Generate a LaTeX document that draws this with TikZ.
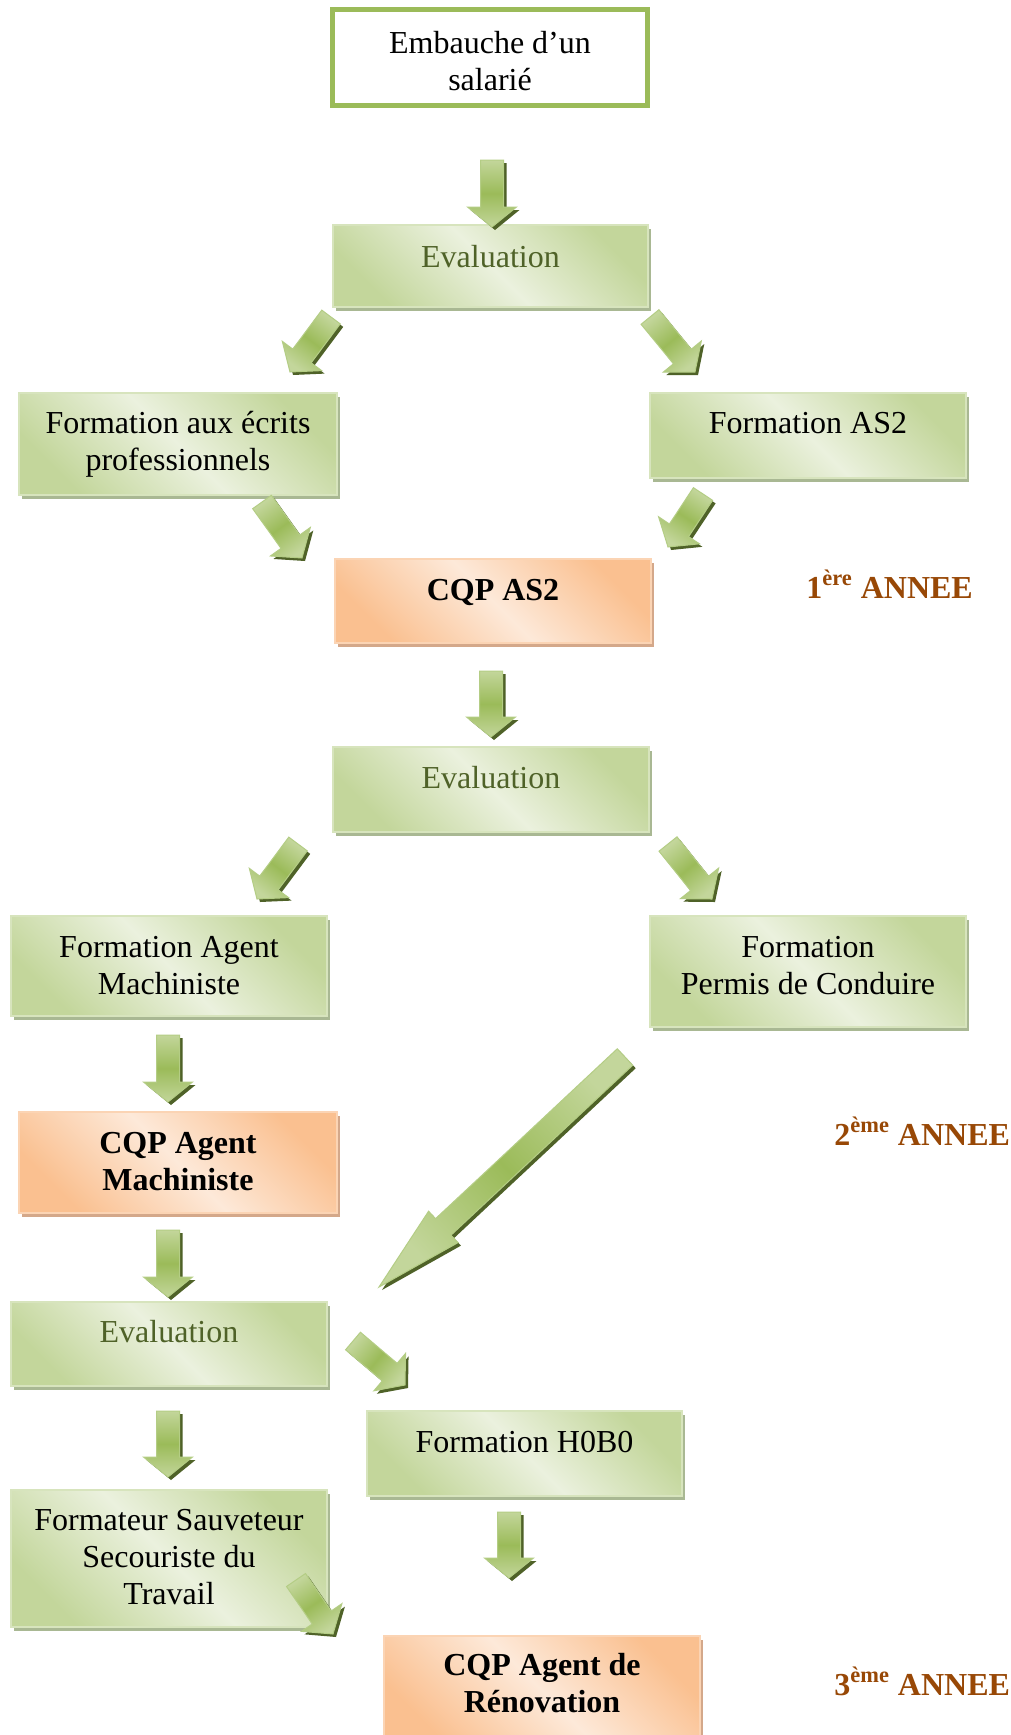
\documentclass[tikz,border=0pt]{standalone}
\usepackage{fontspec}
\setmainfont{Liberation Serif}
\usetikzlibrary{calc,shadows}
\definecolor{gdark}{HTML}{C3D69B}
\definecolor{glight}{HTML}{EBF1DE}
\definecolor{gedge}{HTML}{D7E4BD}
\definecolor{gshadow}{HTML}{A9B893}
\definecolor{odark}{HTML}{FAC090}
\definecolor{olight}{HTML}{FDE9D9}
\definecolor{oedge}{HTML}{FBD4B4}
\definecolor{oshadow}{HTML}{D4A88A}
\definecolor{embgreen}{HTML}{9BBB59}
\definecolor{alight}{HTML}{C3D69B}
\definecolor{adark}{HTML}{9BBB59}
\definecolor{aedge}{HTML}{B4CD85}
\definecolor{ashadow}{HTML}{4F6228}
\definecolor{olivetext}{HTML}{4F6228}
\definecolor{yearbrown}{HTML}{984806}
\newcommand\fs{\fontsize{16}{18.5}\selectfont}
\newcommand\bt[4]{\parbox[c][#2][t]{#1}{\centering\rule{0pt}{#3}#4}}
% block arrow: #1 tail, #2 tip, #3 shaft half width, #4 head half width, #5 head length, #6 shading angle
\newcommand\barr[6]{%
  \coordinate (hb) at ($(#2)!#5!(#1)$);
  \begin{scope}[transform canvas={xshift=1.5pt,yshift=-1.5pt}]
    \fill[ashadow] ($(#1)!#3!90:(#2)$) -- ($(hb)!#3!90:(#2)$) -- ($(hb)!#4!90:(#2)$) -- (#2)
      -- ($(hb)!#4!-90:(#2)$) -- ($(hb)!#3!-90:(#2)$) -- ($(#1)!#3!-90:(#2)$) -- cycle;
  \end{scope}
  \shade[top color=alight, bottom color=alight, middle color=adark, shading angle=#6,
         draw=aedge, line width=0.5pt, line join=miter]
    ($(#1)!#3!90:(#2)$) -- ($(hb)!#3!90:(#2)$) -- ($(hb)!#4!90:(#2)$) -- (#2)
      -- ($(hb)!#4!-90:(#2)$) -- ($(hb)!#3!-90:(#2)$) -- ($(#1)!#3!-90:(#2)$) -- cycle;
}
\tikzset{
  gbox/.style={rectangle, inner sep=0pt, draw=gedge, line width=0.75pt,
    general shadow={fill=gshadow, shadow xshift=1.5pt, shadow yshift=-2pt},
    top color=gdark, bottom color=gdark, middle color=glight, shading angle=-45, font=\fs},
  obox/.style={rectangle, inner sep=0pt, draw=oedge, line width=0.75pt,
    general shadow={fill=oshadow, shadow xshift=1.5pt, shadow yshift=-2pt},
    top color=odark, bottom color=odark, middle color=olight, shading angle=-45, font=\fs\bfseries},
  embbox/.style={rectangle, inner sep=0pt, draw=embgreen, line width=2.5pt, fill=white, font=\fs},
  year/.style={inner sep=0pt, anchor=base west, text=yearbrown, font=\fs\bfseries},
}
\begin{document}
\begin{tikzpicture}[x=0.5pt,y=-0.5pt]
\useasboundingbox (0,0) rectangle (1011,1735);
\clip (0,0) rectangle (1011,1735);
\fill[white] (0,0) rectangle (1011,1735);

% boxes
\node[embbox] (emb) at (490,57.5) {\bt{157.5pt}{48pt}{21.75pt}{Embauche d’un\\salarié}};
\node[gbox] (ev1) at (490.5,266) {\bt{157.5pt}{41pt}{21pt}{\color{olivetext}Evaluation}};
\node[gbox] (ecr) at (178,444) {\bt{159pt}{51pt}{20pt}{Formation aux écrits\\professionnels}};
\node[gbox] (as2) at (808,435.5) {\bt{158pt}{42.5pt}{20pt}{Formation AS2}};
\node[obox] (cqp1) at (493,601) {\bt{158pt}{42pt}{20.5pt}{CQP AS2}};
\node[gbox] (ev2) at (491,789.5) {\bt{158pt}{42.5pt}{20.5pt}{\color{olivetext}Evaluation}};
\node[gbox] (fam) at (169,966) {\bt{158pt}{50pt}{20.5pt}{Formation Agent\\Machiniste}};
\node[gbox] (per) at (808,971.5) {\bt{158pt}{55.5pt}{20.5pt}{Formation\\Permis de Conduire}};
\node[obox] (cqp2) at (178,1162.5) {\bt{159pt}{50.5pt}{20.5pt}{CQP Agent\\Machiniste}};
\node[gbox] (ev3) at (169,1344) {\bt{158pt}{42pt}{20pt}{\color{olivetext}Evaluation}};
\node[gbox] (hob) at (524.5,1453.5) {\bt{157.5pt}{42.5pt}{20.5pt}{Formation H0B0}};
\node[gbox] (fss) at (169,1558.5) {\bt{158pt}{68.5pt}{20pt}{Formateur Sauveteur\\Secouriste du\\Travail}};
\node[obox] (cqp3) at (542,1690.5) {\bt{158pt}{54.5pt}{19.5pt}{CQP Agent de\\Rénovation}};

% year labels
\node[year] (y1) at (806,598) {1\textsuperscript{ère} ANNEE};
\node[year] (y2) at (834,1145) {2\textsuperscript{ème} ANNEE};
\node[year] (y3) at (834,1695) {3\textsuperscript{ème} ANNEE};

% arrow end points
\coordinate (a1s) at (492,160);  \coordinate (a1e) at (492,227);
\coordinate (a2s) at (331,317);  \coordinate (a2e) at (290,372);
\coordinate (a3s) at (650,317);  \coordinate (a3e) at (695,372);
\coordinate (a4s) at (262,502);  \coordinate (a4e) at (302,558);
\coordinate (a5s) at (703,494);  \coordinate (a5e) at (668,547);
\coordinate (a6s) at (491,671);  \coordinate (a6e) at (491,737);
\coordinate (a7s) at (298,844);  \coordinate (a7e) at (257,899);
\coordinate (a8s) at (668,844);  \coordinate (a8e) at (712,899);
\coordinate (a9s) at (168,1035); \coordinate (a9e) at (168,1102);
\coordinate (a10s) at (625,1057); \coordinate (a10e) at (379,1287);
\coordinate (a11s) at (168,1230); \coordinate (a11e) at (168,1297);
\coordinate (a12s) at (353,1341); \coordinate (a12e) at (405,1385);
\coordinate (a13s) at (168,1411); \coordinate (a13e) at (168,1477);
\coordinate (a14s) at (509,1512); \coordinate (a14e) at (509,1578);
\coordinate (a15s) at (296,1580); \coordinate (a15e) at (333,1634);

% arrows
\barr{a1s}{a1e}{5.75pt}{12.25pt}{10pt}{0}
\barr{a2s}{a2e}{5.75pt}{12.25pt}{10pt}{-37}
\barr{a3s}{a3e}{5.75pt}{12.25pt}{10pt}{39}
\barr{a4s}{a4e}{5.75pt}{12.25pt}{10pt}{36}
\barr{a5s}{a5e}{5.75pt}{12.25pt}{10pt}{-33}
\barr{a6s}{a6e}{5.75pt}{12.25pt}{10pt}{0}
\barr{a7s}{a7e}{5.75pt}{12.25pt}{10pt}{-37}
\barr{a8s}{a8e}{5.75pt}{12.25pt}{10pt}{39}
\barr{a9s}{a9e}{5.75pt}{12.25pt}{10pt}{0}
\barr{a10s}{a10e}{5.65pt}{10.75pt}{44pt}{-47}
\barr{a11s}{a11e}{5.75pt}{12.25pt}{10pt}{0}
\barr{a12s}{a12e}{5.75pt}{12.25pt}{10pt}{50}
\barr{a13s}{a13e}{5.75pt}{12.25pt}{10pt}{0}
\barr{a14s}{a14e}{5.75pt}{12.25pt}{10pt}{0}
\barr{a15s}{a15e}{5.75pt}{12.25pt}{10pt}{34}
\end{tikzpicture}
\end{document}
